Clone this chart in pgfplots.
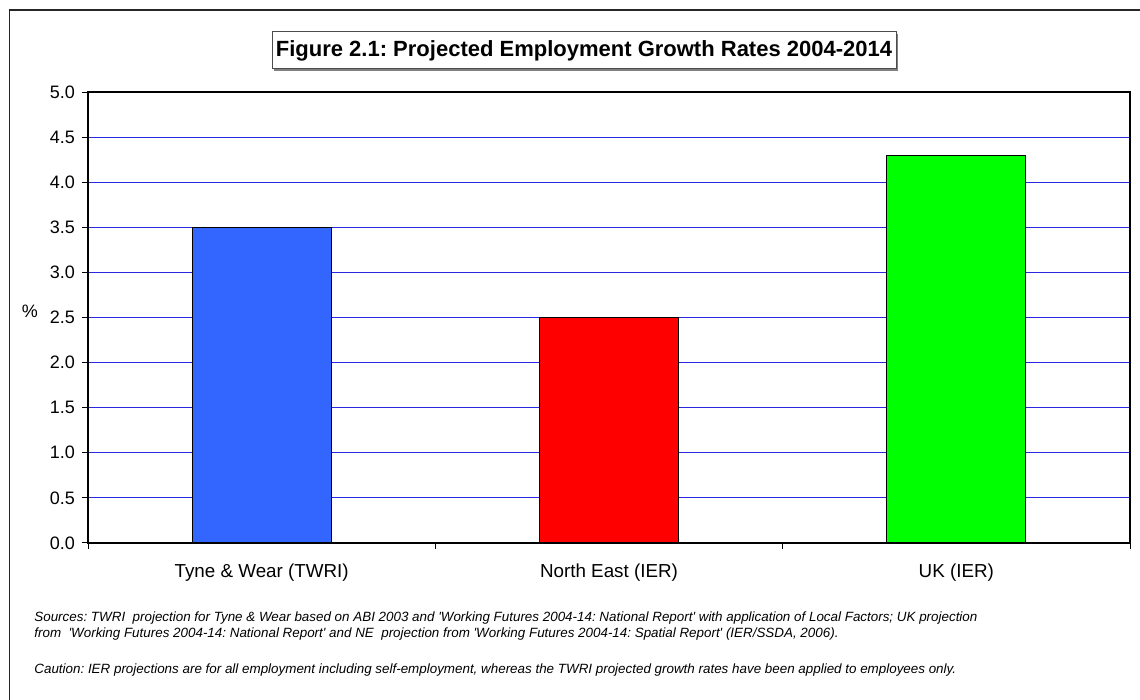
\documentclass[border=0pt]{standalone}
\usepackage{fontspec}
\setmainfont{Liberation Sans}[Ligatures=TeXOff]
\usepackage{pgfplots}
\pgfplotsset{compat=1.18}
\definecolor{barblue}{HTML}{3366FF}
\definecolor{barred}{HTML}{FF0000}
\definecolor{bargreen}{HTML}{00FF00}
\definecolor{gridblue}{RGB}{40,40,225}
\frenchspacing
\begin{document}
\begin{tikzpicture}
\useasboundingbox (0,0) rectangle (570pt,350pt);
% outer frame (top and left edges visible)
\draw[line width=0.9pt, black!85] (4.75pt,0pt) -- (4.75pt,345pt) -- (570pt,345pt);
\begin{axis}[
  at={(44pt,78.5pt)}, anchor=south west,
  scale only axis, width=521pt, height=225.5pt,
  xmin=-0.5, xmax=2.5, ymin=0, ymax=5,
  ytick={0,0.5,...,5},
  xtick={0,1,2},
  xticklabels={Tyne \& Wear (TWRI), North East (IER), UK (IER)},
  major x tick style={draw=none},
  minor xtick={-0.5,0.5,1.5,2.5},
  minor x tick style={black, thin},
  minor tick length=3pt,
  major tick length=3pt,
  tick align=outside,
  x tick label style={font=\fontsize{9.4}{11}\selectfont, yshift=-4pt},
  y tick label style={font=\fontsize{9}{11}\selectfont, /pgf/number format/.cd, fixed, fixed zerofill, precision=1, assume math mode=true},
  ytick pos=left, xtick pos=bottom,
  ymajorgrids, grid style={gridblue, line width=0.5pt},
  axis line style={black, line width=0.6pt},
  ytick style={black, line width=0.5pt},
  axis on top=false,
  clip=false,
]
\addplot[ybar, bar width=69.5pt, fill=barblue, draw=black, line width=0.5pt] coordinates {(0,3.5)};
\addplot[ybar, bar width=69.5pt, fill=barred, draw=black, line width=0.5pt] coordinates {(1,2.5)};
\addplot[ybar, bar width=69.5pt, fill=bargreen, draw=black, line width=0.5pt] coordinates {(2,4.3)};
\end{axis}
% y axis label
\node at (15pt,194.5pt) {\fontsize{9}{11}\selectfont\%};
% title box with shadow
\fill[black!50] (137pt,314.5pt) rectangle (449pt,333pt);
\node[draw=black!70, line width=0.5pt, fill=white, minimum width=312pt, minimum height=18.5pt, inner sep=0pt, font=\fontsize{11}{13}\selectfont\bfseries] at (292pt,324.75pt) {Figure 2.1: Projected Employment Growth Rates 2004-2014};
% notes
\node[anchor=base west, inner sep=0pt, font=\fontsize{6.7}{8}\selectfont\itshape] at (17pt,39.25pt) {Sources: TWRI\ \ projection for Tyne \& Wear based on ABI 2003 and 'Working Futures 2004-14: National Report' with application of Local Factors; UK projection};
\node[anchor=base west, inner sep=0pt, font=\fontsize{6.7}{8}\selectfont\itshape] at (17pt,31.25pt) {from\ \ 'Working Futures 2004-14: National Report' and NE\ \ projection from 'Working Futures 2004-14: Spatial Report' (IER/SSDA, 2006).};
\node[anchor=base west, inner sep=0pt, font=\fontsize{6.7}{8}\selectfont\itshape] at (17pt,13pt) {Caution: IER projections are for all employment including self-employment, whereas the TWRI projected growth rates have been applied to employees only.};
\end{tikzpicture}
\end{document}
